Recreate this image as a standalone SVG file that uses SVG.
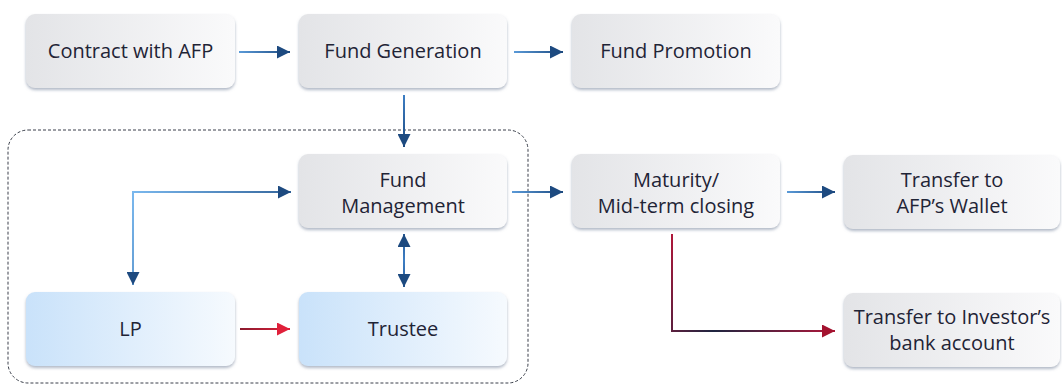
<svg xmlns="http://www.w3.org/2000/svg" width="1062" height="385" viewBox="0 0 1062 385">
<defs>
<linearGradient id="gGray" x1="0" y1="0" x2="1" y2="0">
<stop offset="0" stop-color="#e3e4e7"/>
<stop offset="1" stop-color="#fafafb"/>
</linearGradient>
<linearGradient id="gBlue" x1="0" y1="0" x2="1" y2="0">
<stop offset="0" stop-color="#c9e2fa"/>
<stop offset="1" stop-color="#f6fafe"/>
</linearGradient>
<linearGradient id="l1" gradientUnits="userSpaceOnUse" x1="239" y1="0" x2="290" y2="0"><stop offset="0" stop-color="#5a9ad8"/><stop offset="1" stop-color="#1d4a80"/></linearGradient>
<linearGradient id="l2" gradientUnits="userSpaceOnUse" x1="514" y1="0" x2="563" y2="0"><stop offset="0" stop-color="#5a9ad8"/><stop offset="1" stop-color="#1d4a80"/></linearGradient>
<linearGradient id="l3" gradientUnits="userSpaceOnUse" x1="0" y1="95" x2="0" y2="147"><stop offset="0" stop-color="#3d7ec4"/><stop offset="1" stop-color="#1d4a80"/></linearGradient>
<linearGradient id="l4" gradientUnits="userSpaceOnUse" x1="512" y1="0" x2="563" y2="0"><stop offset="0" stop-color="#5a9ad8"/><stop offset="1" stop-color="#1d4a80"/></linearGradient>
<linearGradient id="l5" gradientUnits="userSpaceOnUse" x1="787" y1="0" x2="835" y2="0"><stop offset="0" stop-color="#5a9ad8"/><stop offset="1" stop-color="#1d4a80"/></linearGradient>
<linearGradient id="l6" gradientUnits="userSpaceOnUse" x1="0" y1="234" x2="0" y2="287"><stop offset="0" stop-color="#2a5d9a"/><stop offset="0.5" stop-color="#3d7ec4"/><stop offset="1" stop-color="#2a5d9a"/></linearGradient>
<linearGradient id="lnLP" gradientUnits="userSpaceOnUse" x1="133" y1="192" x2="291" y2="285">
<stop offset="0" stop-color="#7ab8ee"/>
<stop offset="1" stop-color="#1d4a80"/>
</linearGradient>
<linearGradient id="lnRed" gradientUnits="userSpaceOnUse" x1="672" y1="234" x2="835" y2="331">
<stop offset="0" stop-color="#b0173a"/>
<stop offset="0.45" stop-color="#1e2540"/>
<stop offset="1" stop-color="#b0173a"/>
</linearGradient>
<linearGradient id="lnRed2" gradientUnits="userSpaceOnUse" x1="240" y1="0" x2="290" y2="0">
<stop offset="0" stop-color="#8a1a2e"/>
<stop offset="1" stop-color="#e0203a"/>
</linearGradient>
<marker id="ah" viewBox="0 0 10 10" refX="10" refY="5" markerWidth="6.5" markerHeight="6.5" orient="auto-start-reverse" markerUnits="strokeWidth">
<path d="M0,0 L10,5 L0,10 Z" fill="#1d4a80"/>
</marker>
<marker id="ahR" viewBox="0 0 10 10" refX="10" refY="5" markerWidth="6.5" markerHeight="6.5" orient="auto" markerUnits="strokeWidth">
<path d="M0,0 L10,5 L0,10 Z" fill="#a3132f"/>
</marker>
<marker id="ahR2" viewBox="0 0 10 10" refX="10" refY="5" markerWidth="6.5" markerHeight="6.5" orient="auto" markerUnits="strokeWidth">
<path d="M0,0 L10,5 L0,10 Z" fill="#e0203a"/>
</marker>
<filter id="sh" x="-10%" y="-10%" width="120%" height="130%">
<feDropShadow dx="0" dy="2" stdDeviation="1.6" flood-color="#6f7f99" flood-opacity="0.55"/>
</filter>
</defs>
<style>
.box{fill:url(#gGray);filter:url(#sh);}
.bbox{fill:url(#gBlue);filter:url(#sh);}
.t{font-family:"Open Sans","Noto Sans","Liberation Sans",sans-serif;font-size:20px;fill:#1f2436;text-anchor:middle;}
.ln{fill:none;stroke-width:2;}
</style>
<rect x="8" y="130" width="520" height="253" rx="20" fill="none" stroke="#3a3f4a" stroke-width="1" stroke-dasharray="3,2"/>
<g id="connectors">
<line class="ln" x1="239" y1="52" x2="290" y2="52" stroke="url(#l1)" marker-end="url(#ah)"/>
<line class="ln" x1="514" y1="52" x2="563" y2="52" stroke="url(#l2)" marker-end="url(#ah)"/>
<line class="ln" x1="404" y1="95" x2="404" y2="147" stroke="url(#l3)" marker-end="url(#ah)"/>
<line class="ln" x1="512" y1="192" x2="563" y2="192" stroke="url(#l4)" marker-end="url(#ah)"/>
<line class="ln" x1="787" y1="192" x2="835" y2="192" stroke="url(#l5)" marker-end="url(#ah)"/>
<path class="ln" d="M291,192 H133 V285" stroke="url(#lnLP)" marker-start="url(#ah)" marker-end="url(#ah)"/>
<line class="ln" x1="404" y1="234" x2="404" y2="287" stroke="url(#l6)" marker-start="url(#ah)" marker-end="url(#ah)"/>
<line class="ln" x1="240" y1="329" x2="290" y2="329" stroke="url(#lnRed2)" marker-end="url(#ahR2)"/>
<path class="ln" d="M672,234 V331 H835" stroke="url(#lnRed)" marker-end="url(#ahR)"/>
</g>
<g id="contract"><rect class="box" x="26" y="14" width="209" height="74" rx="9"/><text class="t" x="130.5" y="58">Contract with AFP</text></g>
<g id="generation"><rect class="box" x="299" y="14" width="208" height="74" rx="9"/><text class="t" x="403" y="58">Fund Generation</text></g>
<g id="promotion"><rect class="box" x="572" y="14" width="208" height="74" rx="9"/><text class="t" x="676" y="58">Fund Promotion</text></g>
<g id="management"><rect class="box" x="299" y="154" width="208" height="74" rx="9"/><text class="t" x="403" y="187">Fund</text><text class="t" x="403" y="213">Management</text></g>
<g id="maturity"><rect class="box" x="572" y="154" width="208" height="74" rx="9"/><text class="t" x="676" y="187">Maturity/</text><text class="t" x="676" y="213">Mid-term closing</text></g>
<g id="wallet"><rect class="box" x="844" y="155" width="216" height="74" rx="9"/><text class="t" x="952" y="187">Transfer to</text><text class="t" x="952" y="213">AFP’s Wallet</text></g>
<g id="lp"><rect class="bbox" x="26" y="292" width="209" height="74" rx="9"/><text class="t" x="130.5" y="336">LP</text></g>
<g id="trustee"><rect class="bbox" x="299" y="292" width="208" height="74" rx="9"/><text class="t" x="403" y="336">Trustee</text></g>
<g id="investor"><rect class="box" x="844" y="293" width="216" height="74" rx="9"/><text class="t" x="952" y="324">Transfer to Investor’s</text><text class="t" x="952" y="350">bank account</text></g>
</svg>
